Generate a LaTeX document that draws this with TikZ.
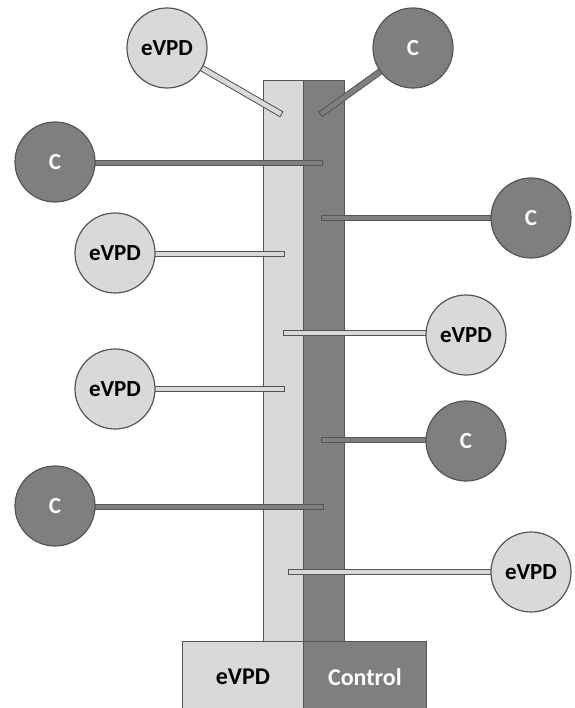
\documentclass[tikz,border=0pt]{standalone}
\usepackage{fontspec}
\setmainfont{Carlito}
\pgfdeclarelayer{columns}
\pgfdeclarelayer{stems}
\pgfsetlayers{columns,stems,main}
\definecolor{lightfill}{HTML}{D9D9D9}
\definecolor{darkfill}{HTML}{7F7F7F}
\definecolor{edge}{HTML}{555555}
\begin{document}
\begin{tikzpicture}[x=1pt,y=-1pt,
  colbox/.style={draw=edge,line width=0.8pt},
  bubble/.style={circle,minimum size=80pt,inner sep=0pt,draw=edge,line width=1.2pt,
    font=\bfseries\fontsize{23}{23}\selectfont},
  evpd/.style={bubble,fill=lightfill,text=black},
  ctrl/.style={bubble,fill=darkfill,text=white},
  basebox/.style={draw=edge,line width=0.8pt,minimum height=71pt,inner sep=0pt,
    font=\bfseries\fontsize{24}{24}\selectfont},
  lightstem/.style={line width=4.6pt,draw=lightfill,
    preaction={draw=edge,line width=6.6pt,shorten >=-1pt}},
  darkstem/.style={line width=4.6pt,draw=darkfill,
    preaction={draw=edge,line width=6.6pt,shorten >=-1pt}}
]
\useasboundingbox (0,0) rectangle (574,708);

% the two columns and their base
\begin{pgfonlayer}{columns}
  \fill[white] (0,0) rectangle (574,708);
  \filldraw[colbox,fill=lightfill] (263,80) rectangle (303,645);
  \filldraw[colbox,fill=darkfill] (303,80) rectangle (344,645);
  \node[basebox,fill=lightfill,text=black,minimum width=121pt,anchor=north west] (baseL) at (182,641) {eVPD};
  \node[basebox,fill=darkfill,text=white,minimum width=123pt,anchor=north west] (baseR) at (303,641) {Control};
\end{pgfonlayer}

% branch tips
\coordinate (t1) at (281,114);
\coordinate (t2) at (321,114);
\coordinate (t3) at (322,163);
\coordinate (t4) at (322,218);
\coordinate (t5) at (284,254);
\coordinate (t6) at (284,333);
\coordinate (t7) at (284,389);
\coordinate (t8) at (322,440);
\coordinate (t9) at (323,507);
\coordinate (t10) at (289,572);

% bubbles
\node[evpd] (b1) at (167,48) {eVPD};
\node[ctrl] (b2) at (413,48) {C};
\node[ctrl] (b3) at (55,162) {C};
\node[ctrl] (b4) at (531,218) {C};
\node[evpd] (b5) at (115,253) {eVPD};
\node[evpd] (b6) at (466,335) {eVPD};
\node[evpd] (b7) at (115,389) {eVPD};
\node[ctrl] (b8) at (466,441) {C};
\node[ctrl] (b9) at (55,506) {C};
\node[evpd] (b10) at (531,572) {eVPD};

% branches
\begin{pgfonlayer}{stems}
  \draw[lightstem] (b1.center) -- (t1);
  \draw[darkstem] (b2.center) -- (t2);
  \draw[darkstem] (b3.center |- t3) -- (t3);
  \draw[darkstem] (b4.center |- t4) -- (t4);
  \draw[lightstem] (b5.center |- t5) -- (t5);
  \draw[lightstem] (b6.center |- t6) -- (t6);
  \draw[lightstem] (b7.center |- t7) -- (t7);
  \draw[darkstem] (b8.center |- t8) -- (t8);
  \draw[darkstem] (b9.center |- t9) -- (t9);
  \draw[lightstem] (b10.center |- t10) -- (t10);
\end{pgfonlayer}
\end{tikzpicture}
\end{document}
